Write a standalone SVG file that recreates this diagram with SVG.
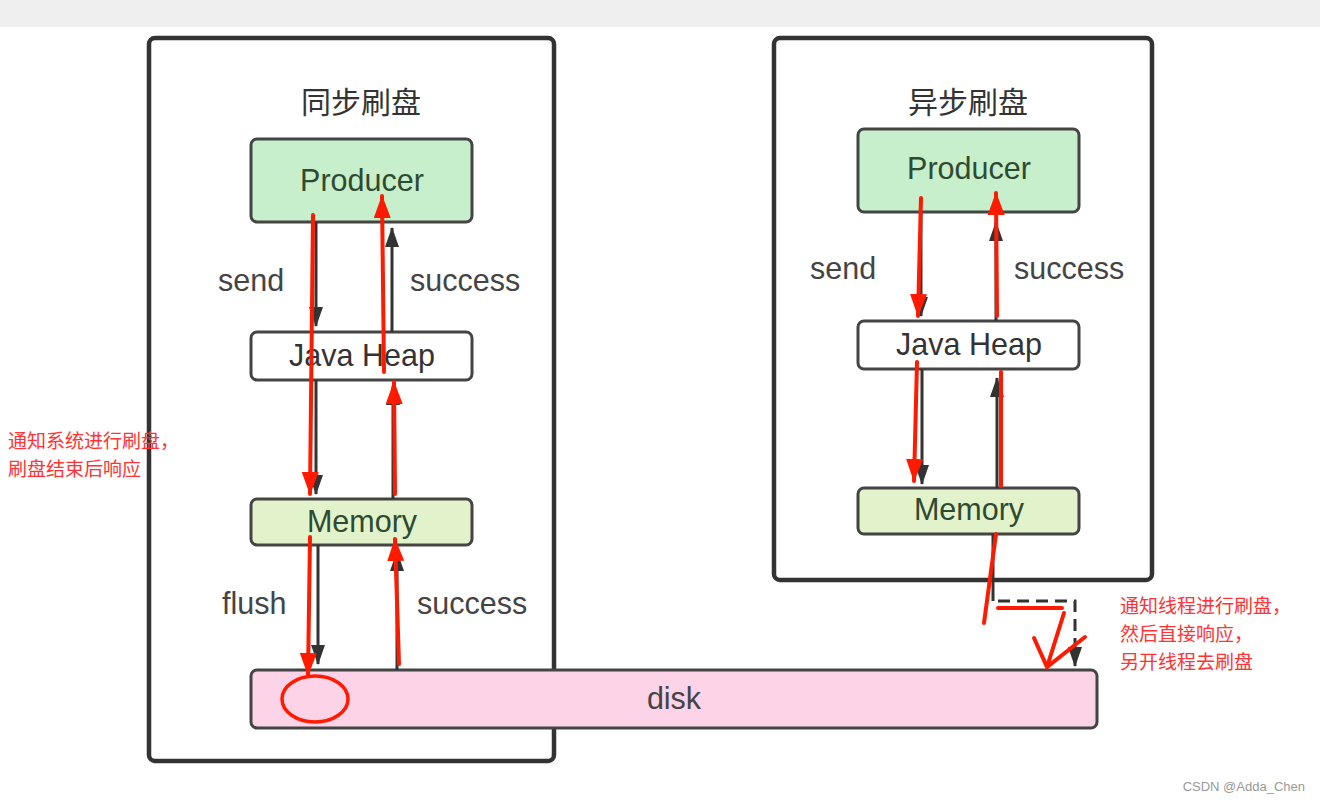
<svg xmlns="http://www.w3.org/2000/svg" width="1320" height="802" viewBox="0 0 1320 802">
<defs>
<style>
.frame{fill:#fff;stroke:#333;stroke-width:4.5}
.box{stroke:#444;stroke-width:3}
.lbl{font-family:"Liberation Sans",Arial,sans-serif;font-size:30.5px;fill:#444}
.nt{font-family:"Liberation Sans",Arial,sans-serif;font-size:30.5px;text-anchor:middle}
.title{font-family:"Noto Sans CJK SC",sans-serif;font-size:30px;fill:#333;text-anchor:middle}
.note{font-family:"Noto Sans CJK SC",sans-serif;font-size:19px;fill:#ff3333}
.dk{stroke:#333;stroke-width:3;fill:none}
.rd{stroke:#ff1a00;stroke-width:4;fill:none;stroke-linecap:round}
</style>
<marker id="ah" viewBox="0 0 20 14" refX="19" refY="7" markerWidth="6.67" markerHeight="4.67" markerUnits="strokeWidth" orient="auto"><path d="M0,0 L20,7 L0,14 Z" fill="#333"/></marker>
<marker id="rh" viewBox="0 0 23 17" refX="22" refY="8.5" markerWidth="5.75" markerHeight="4.25" markerUnits="strokeWidth" orient="auto"><path d="M0,0 L23,8.5 L0,17 Z" fill="#ff1a00"/></marker>
</defs>
<rect x="0" y="0" width="1320" height="802" fill="#fff"/>
<rect x="0" y="0" width="1320" height="27" fill="#efefef"/>

<g id="sync-frame"><rect class="frame" x="149" y="38" width="405" height="723" rx="6"/>
<text class="title" x="361" y="113">同步刷盘</text></g>
<g id="async-frame"><rect class="frame" x="774" y="38" width="378" height="542" rx="6"/>
<text class="title" x="968" y="113">异步刷盘</text></g>

<g id="disk"><rect class="box" x="251" y="670" width="846" height="58" rx="6" fill="#fdd3e7"/>
<text class="nt" x="674" y="709" fill="#444">disk</text></g>

<g id="sync-producer"><rect class="box" x="251" y="139" width="221" height="83" rx="6" fill="#c7efcb"/>
<text class="nt" x="362" y="191" fill="#2e4a30">Producer</text></g>
<g id="sync-heap"><rect class="box" x="251" y="332" width="221" height="48" rx="6" fill="#fff"/>
<text class="nt" x="362" y="366" fill="#333">Java Heap</text></g>
<g id="sync-memory"><rect class="box" x="251" y="499" width="221" height="46" rx="6" fill="#e2f3cc"/>
<text class="nt" x="362" y="532" fill="#2e4a30">Memory</text></g>

<g id="async-producer"><rect class="box" x="858" y="129" width="221" height="83" rx="6" fill="#c7efcb"/>
<text class="nt" x="969" y="179" fill="#2e4a30">Producer</text></g>
<g id="async-heap"><rect class="box" x="858" y="321" width="221" height="48" rx="6" fill="#fff"/>
<text class="nt" x="969" y="355" fill="#333">Java Heap</text></g>
<g id="async-memory"><rect class="box" x="858" y="488" width="221" height="46" rx="6" fill="#e2f3cc"/>
<text class="nt" x="969" y="520" fill="#2e4a30">Memory</text></g>

<g id="connectors">
<line class="dk" x1="316" y1="222" x2="316" y2="326" marker-end="url(#ah)"/>
<line class="dk" x1="392" y1="332" x2="392" y2="228" marker-end="url(#ah)"/>
<line class="dk" x1="316" y1="380" x2="316" y2="494" marker-end="url(#ah)"/>
<line class="dk" x1="393" y1="499" x2="393" y2="386" marker-end="url(#ah)"/>
<line class="dk" x1="318" y1="545" x2="318" y2="664" marker-end="url(#ah)"/>
<line class="dk" x1="397" y1="670" x2="397" y2="552" marker-end="url(#ah)"/>
<line class="dk" x1="921" y1="212" x2="921" y2="316" marker-end="url(#ah)"/>
<line class="dk" x1="996" y1="321" x2="996" y2="222" marker-end="url(#ah)"/>
<line class="dk" x1="922" y1="369" x2="922" y2="484" marker-end="url(#ah)"/>
<line class="dk" x1="997" y1="488" x2="997" y2="378" marker-end="url(#ah)"/>
<path class="dk" d="M993,534 L993,601"/>
<path class="dk" d="M998,601 L1075,601 L1075,666" stroke-dasharray="12,7" marker-end="url(#ah)"/>
<text class="lbl" x="218" y="291">send</text>
<text class="lbl" x="410" y="291">success</text>
<text class="lbl" x="222" y="614">flush</text>
<text class="lbl" x="417" y="614">success</text>
<text class="lbl" x="810" y="279">send</text>
<text class="lbl" x="1014" y="279">success</text>
</g>

<g id="annotations">
<line class="rd" x1="313" y1="215" x2="310" y2="494" marker-end="url(#rh)"/>
<line class="rd" x1="395" y1="494" x2="394" y2="382" marker-end="url(#rh)"/>
<line class="rd" x1="384" y1="372" x2="382" y2="196" marker-end="url(#rh)"/>
<line class="rd" x1="310" y1="537" x2="308" y2="675" marker-end="url(#rh)"/>
<line class="rd" x1="399" y1="664" x2="395" y2="539" marker-end="url(#rh)"/>
<ellipse cx="315" cy="699" rx="33" ry="23" fill="none" stroke="#ff1a00" stroke-width="3.5"/>
<line class="rd" x1="921" y1="198" x2="918" y2="316" marker-end="url(#rh)"/>
<line class="rd" x1="997" y1="316" x2="996" y2="193" marker-end="url(#rh)"/>
<line class="rd" x1="917" y1="362" x2="914" y2="481" marker-end="url(#rh)"/>
<line class="rd" x1="1001" y1="486" x2="1001" y2="372"/>
<line class="rd" x1="996" y1="534" x2="984" y2="623"/>
<line class="rd" x1="998" y1="608" x2="1062" y2="608"/>
<path class="rd" d="M1064,613 L1047,667 M1034,638 L1047,667 L1085,637"/>
<text class="note" x="8" y="448">通知系统进行刷盘，</text>
<text class="note" x="8" y="476">刷盘结束后响应</text>
<text class="note" x="1120" y="613">通知线程进行刷盘，</text>
<text class="note" x="1120" y="641">然后直接响应，</text>
<text class="note" x="1120" y="669">另开线程去刷盘</text>
<text x="1305" y="791" text-anchor="end" font-family="'Liberation Sans',Arial,sans-serif" font-size="13" fill="#999">CSDN @Adda_Chen</text>
</g>
</svg>
